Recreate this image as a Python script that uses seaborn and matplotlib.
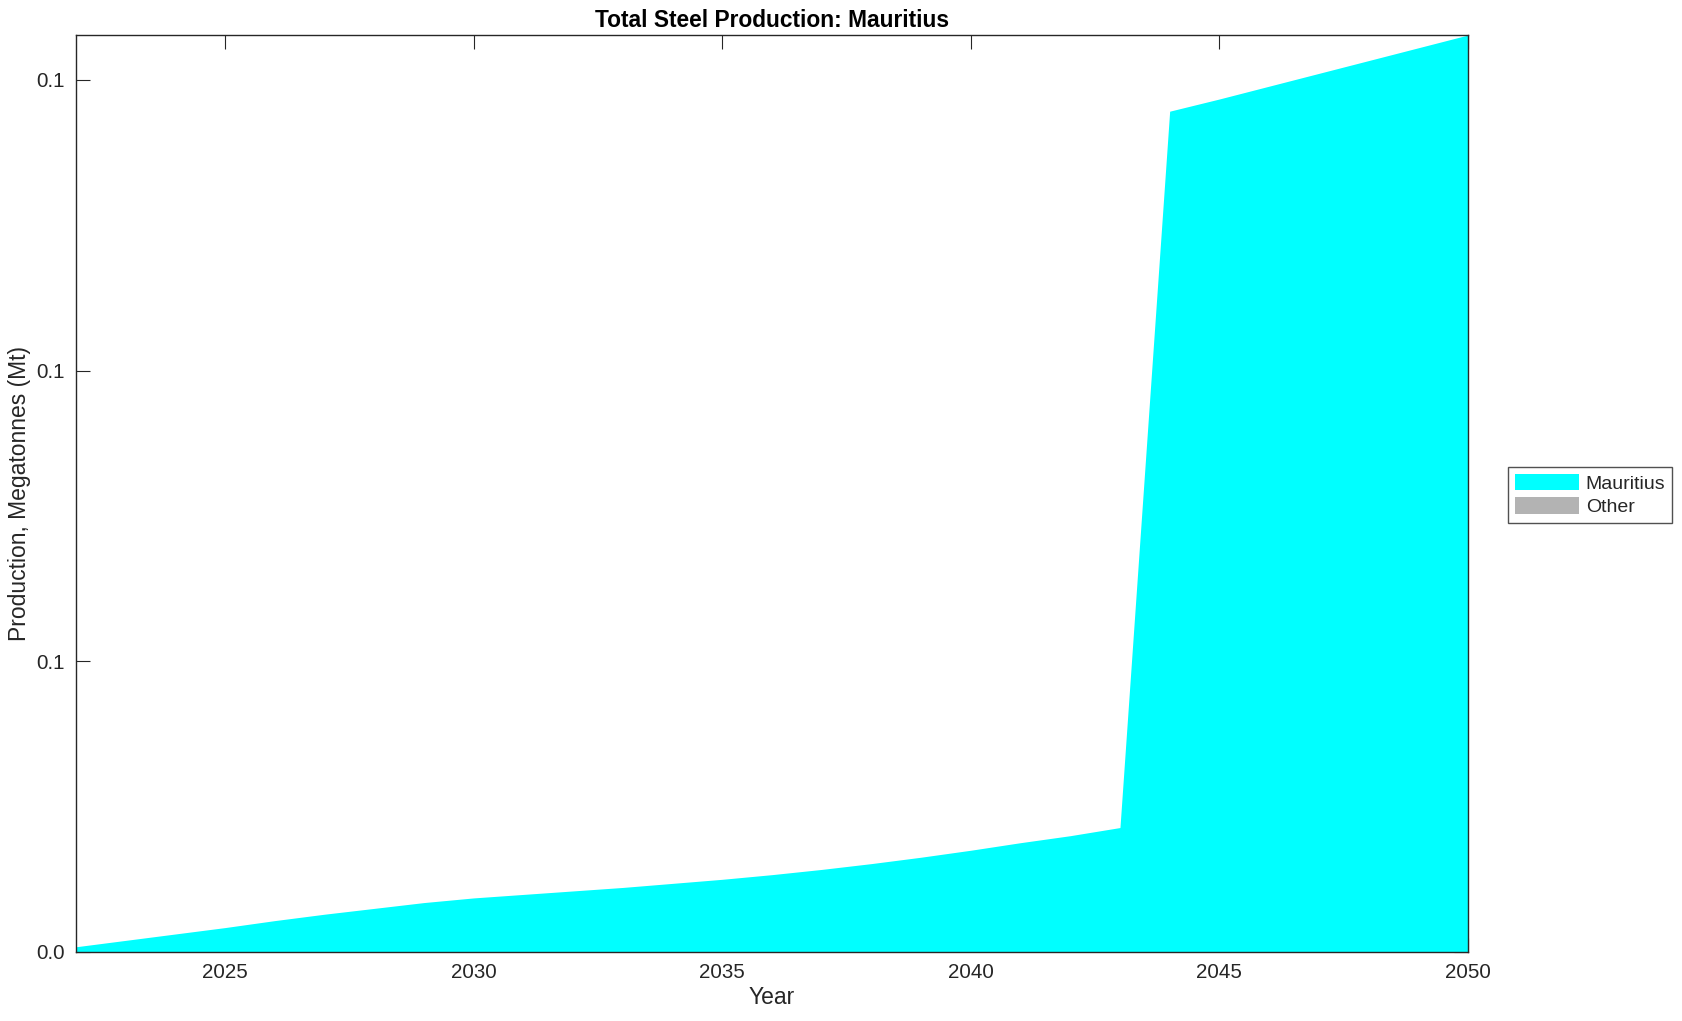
import numpy as np
import pandas as pd
import seaborn as sns
import matplotlib
matplotlib.use("Agg")
import matplotlib.pyplot as plt
from matplotlib.ticker import FormatStrFormatter, MultipleLocator

years = list(range(2022, 2051))
mauritius = [0.0009, 0.0020, 0.0031, 0.0042, 0.0054, 0.0065, 0.0075, 0.0085,
             0.0093, 0.0099, 0.0105, 0.0111, 0.0118, 0.0125, 0.0133, 0.0142,
             0.0152, 0.0163, 0.0175, 0.0188, 0.0200, 0.0214, 0.1446, 0.1467,
             0.1489, 0.1511, 0.1533, 0.1555, 0.1577]
other = [0.0] * len(years)
series_names = ["Mauritius", "Other"]
series_colors = ["#00ffff", "#b3b3b3"]
y_ticks = [0.0, 0.05, 0.1, 0.15]

sns.set_theme(style="ticks")
plt.rcParams["font.family"] = ["Liberation Sans", "DejaVu Sans"]

df = pd.DataFrame({"Year": years, "Mauritius": mauritius, "Other": other})

fig = plt.figure(figsize=(16.83, 10.21), dpi=100)
ax = fig.add_axes([0.0452, 0.0676, 0.8270, 0.8981])

ax.stackplot(df["Year"], df["Mauritius"], df["Other"],
             labels=series_names, colors=series_colors, linewidth=0)

ax.set_xlim(years[0], years[-1])
ax.set_ylim(0, max(mauritius))
ax.xaxis.set_major_locator(MultipleLocator(5))
ax.set_yticks(y_ticks)
ax.yaxis.set_major_formatter(FormatStrFormatter("%.1f"))

dark = "#262626"
for side in ["top", "right", "bottom", "left"]:
    ax.spines[side].set_visible(True)
    ax.spines[side].set_color(dark)
    ax.spines[side].set_linewidth(1.0)
ax.tick_params(direction="in", length=10, width=0.8, colors=dark,
               labelsize=14.8, top=True, right=True, pad=8)

ax.set_title("Total Steel Production: Mauritius", fontsize=16.4, fontweight="bold",
             color="black", pad=6)
ax.set_xlabel("Year", fontsize=16.5, color=dark, labelpad=3)
ax.set_ylabel("Production, Megatonnes (Mt)", fontsize=16.5, color=dark, labelpad=4)

leg = ax.legend(loc="upper left", bbox_to_anchor=(0.896, 0.5426),
                bbox_transform=fig.transFigure, fontsize=14, frameon=True,
                fancybox=False, edgecolor=dark, handlelength=3.3,
                handleheight=0.9, labelspacing=0.25, borderpad=0.35,
                handletextpad=0.35, borderaxespad=0)
leg.get_frame().set_linewidth(1.0)

fig.savefig("out.png", dpi=100)
